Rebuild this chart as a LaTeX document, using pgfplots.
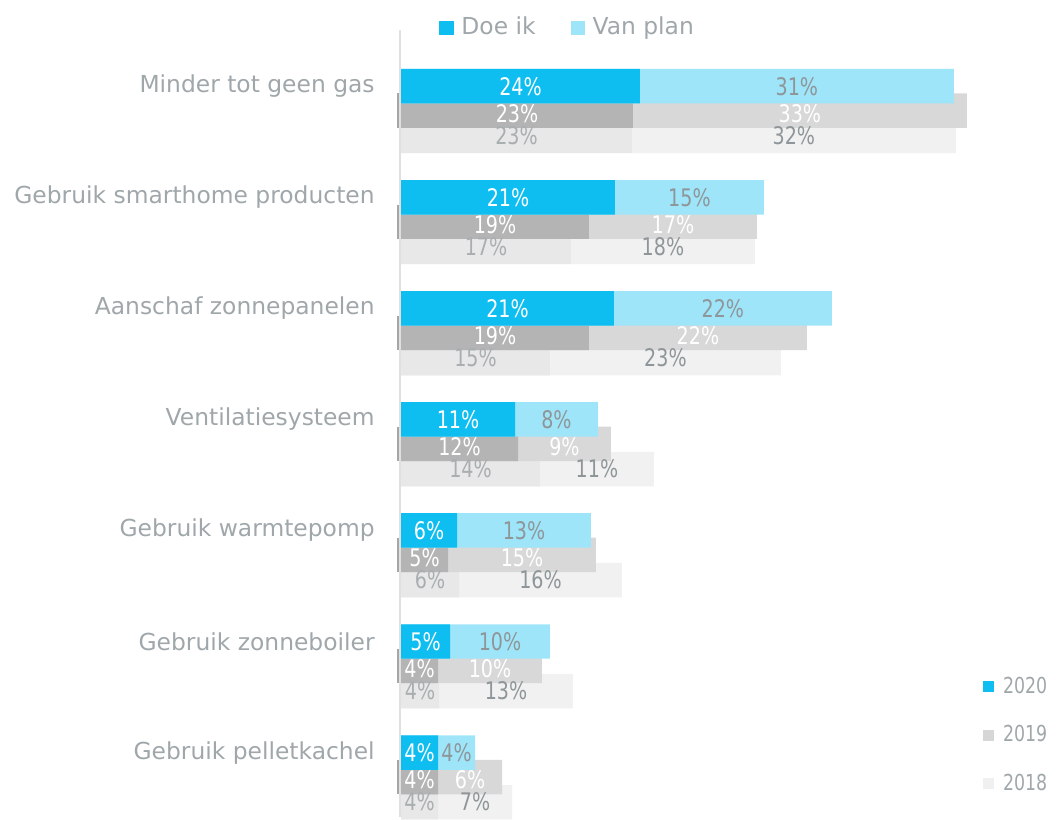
\documentclass[border=0pt]{standalone}
\usepackage{pgfplots}
\usepackage{pgfplotstable}
\pgfplotsset{compat=1.18}
\usepackage{fontspec}
\setmainfont{DejaVu Sans}
\newfontfamily\numfont{DejaVu Sans}[FakeStretch=0.79]

\definecolor{cDoe}{HTML}{0EBEF0}
\definecolor{cPlan}{HTML}{9EE5F9}
\definecolor{cDoeB}{HTML}{B4B4B4}
\definecolor{cPlanB}{HTML}{D8D8D8}
\definecolor{cDoeC}{HTML}{E8E8E8}
\definecolor{cPlanC}{HTML}{F1F1F1}
\definecolor{txt}{HTML}{A0A7AB}
\definecolor{lbl}{HTML}{8F9699}
\definecolor{lblC}{HTML}{A9AEB1}

% d = doe ik, p = van plan; 20/19/18 = 2020/2019/2018
\pgfplotstableread{
g d20  p20  d19  p19  d18  p18
0 23.9 31.4 23.2 33.4 23.1 32.4
1 21.4 14.9 18.8 16.8 17.0 18.4
2 21.3 21.8 18.8 21.8 14.9 23.1
3 11.4 8.3  11.7 9.3  13.9 11.4
4 5.6  13.4 4.7  14.8 5.8  16.3
5 4.9  10.0 3.7  10.4 3.8  13.4
6 3.7  3.7  3.7  6.4  3.7  7.4
}\data

\pgfplotsset{
  segm/.style={xbar, bar width=0.3105, bar shift=0pt, draw=none, fill=#1, forget plot},
  pct/.style={draw=none, mark=none, forget plot, point meta=explicit,
    nodes near coords={\pgfmathprintnumber[fixed,precision=0,assume math mode=true]{\pgfplotspointmeta}\%},
    nodes near coords align=center,
    every node near coord/.append style={text=#1, inner sep=0pt,
      font=\numfont\fontsize{12.1}{13}\selectfont}},
  frame/.style={x=5pt, y=55.55pt, y dir=reverse,
    xmin=-40.1, xmax=65.5, ymin=-0.99685, ymax=6.35689},
}

\begin{document}
\begin{tikzpicture}
\begin{axis}[
  frame,
  clip=false,
  axis line style={draw=none},
  xtick=\empty,
  ytick={-0.2205,0.7795,1.7795,2.7795,3.7795,4.7795,5.7795},
  yticklabels={Minder tot geen gas, Gebruik smarthome producten,
    Aanschaf zonnepanelen, Ventilatiesysteem, Gebruik warmtepomp,
    Gebruik zonneboiler, Gebruik pelletkachel},
  major tick length=0pt,
  yticklabel style={anchor=east, xshift=187.5pt, inner sep=0pt, text=txt,
    font=\fontsize{11.7}{13}\selectfont},
  legend columns=2,
  legend cell align=left,
  legend style={at={(axis cs:3.8,-0.749)}, anchor=west, draw=none, fill=none,
    inner sep=0pt, text=txt, font=\fontsize{11.7}{13}\selectfont,
    nodes={inner sep=0pt},
    /tikz/every odd column/.append style={column sep=4pt},
    /tikz/every even column/.append style={column sep=17.5pt}},
]
% axis lines
\draw[color=black!12, line width=0.75pt] (axis cs:-0.1,-0.727) -- (axis cs:-0.1,6.357);
\draw[color=black!35, line width=0.6pt] (axis cs:-0.3,-0.155) -- (axis cs:-0.3,0.155);
\draw[color=black!35, line width=0.6pt] (axis cs:-0.3,0.845) -- (axis cs:-0.3,1.155);
\draw[color=black!35, line width=0.6pt] (axis cs:-0.3,1.845) -- (axis cs:-0.3,2.155);
\draw[color=black!35, line width=0.6pt] (axis cs:-0.3,2.845) -- (axis cs:-0.3,3.155);
\draw[color=black!35, line width=0.6pt] (axis cs:-0.3,3.845) -- (axis cs:-0.3,4.155);
\draw[color=black!35, line width=0.6pt] (axis cs:-0.3,4.845) -- (axis cs:-0.3,5.155);
\draw[color=black!35, line width=0.6pt] (axis cs:-0.3,5.845) -- (axis cs:-0.3,6.155);

% 2018
\addplot[segm=cPlanC] table[x expr=\thisrow{d18}+\thisrow{p18}, y expr=\thisrow{g}+0.227] {\data};
\addplot[segm=cDoeC] table[x=d18, y expr=\thisrow{g}+0.227] {\data};
% 2019
\addplot[segm=cPlanB] table[x expr=\thisrow{d19}+\thisrow{p19}, y=g] {\data};
\addplot[segm=cDoeB] table[x=d19, y=g] {\data};
% 2020
\addplot[segm=cPlan] table[x expr=\thisrow{d20}+\thisrow{p20}, y expr=\thisrow{g}-0.2205] {\data};
\addplot[segm=cDoe] table[x=d20, y expr=\thisrow{g}-0.2205] {\data};

% labels
\addplot[pct=lblC] table[x expr=\thisrow{d18}/2, y expr=\thisrow{g}+0.225, meta=d18] {\data};
\addplot[pct=lbl] table[x expr=\thisrow{d18}+\thisrow{p18}/2, y expr=\thisrow{g}+0.225, meta=p18] {\data};
\addplot[pct=white] table[x expr=\thisrow{d19}/2, y expr=\thisrow{g}+0.025, meta=d19] {\data};
\addplot[pct=white] table[x expr=\thisrow{d19}+\thisrow{p19}/2, y expr=\thisrow{g}+0.025, meta=p19] {\data};
\addplot[pct=white] table[x expr=\thisrow{d20}/2, y expr=\thisrow{g}-0.2205, meta=d20] {\data};
\addplot[pct=lbl] table[x expr=\thisrow{d20}+\thisrow{p20}/2, y expr=\thisrow{g}-0.2205, meta=p20] {\data};

\addlegendimage{legend image code/.code={\fill[cDoe] (0pt,-3.3pt) rectangle (6.6pt,3.3pt);}}
\addlegendentry{Doe ik}
\addlegendimage{legend image code/.code={\fill[cPlan] (0pt,-3.3pt) rectangle (6.6pt,3.3pt);}}
\addlegendentry{Van plan}
\end{axis}

% year legend
\begin{axis}[
  frame,
  hide axis,
  legend cell align=left,
  legend style={at={(axis cs:58.2,5.6233)}, anchor=west, draw=none, fill=none,
    inner sep=0pt, row sep=14.6pt, text=txt,
    font=\numfont\fontsize{11}{12}\selectfont,
    nodes={inner sep=0pt},
    /tikz/every odd column/.append style={column sep=4.5pt}},
]
\addlegendimage{legend image code/.code={\fill[cDoe] (0pt,-2.5pt) rectangle (5pt,2.5pt);}}
\addlegendentry{2020}
\addlegendimage{legend image code/.code={\fill[black!16] (0pt,-2.5pt) rectangle (5pt,2.5pt);}}
\addlegendentry{2019}
\addlegendimage{legend image code/.code={\fill[black!6] (0pt,-2.5pt) rectangle (5pt,2.5pt);}}
\addlegendentry{2018}
\end{axis}
\end{tikzpicture}
\end{document}
